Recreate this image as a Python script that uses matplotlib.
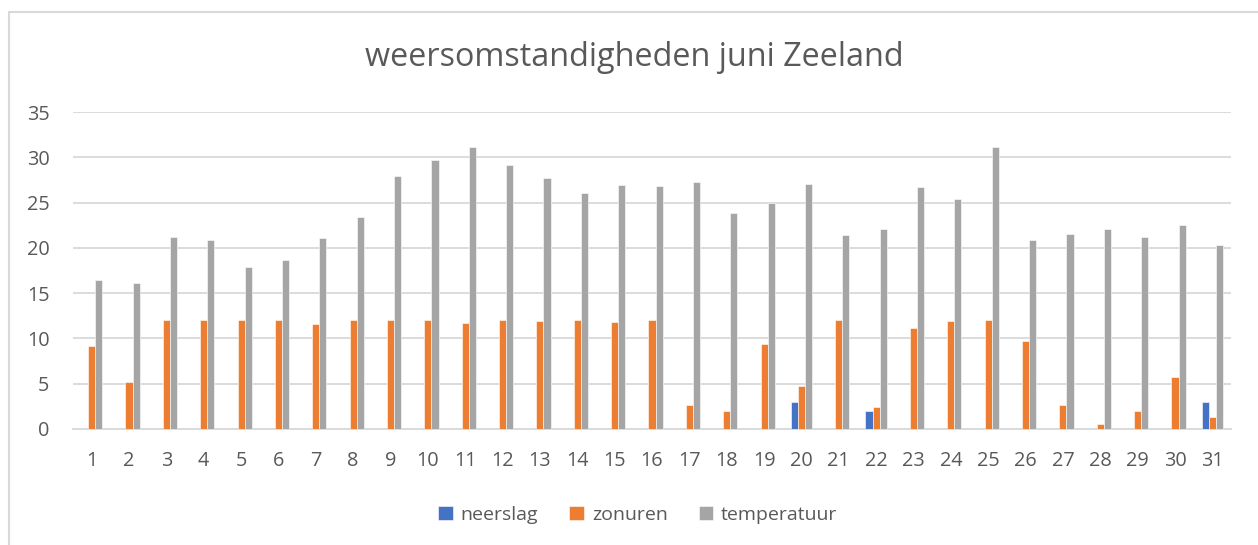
import matplotlib
matplotlib.use("Agg")
import matplotlib.pyplot as plt
import numpy as np
from matplotlib.patches import Rectangle

days = [str(d) for d in range(1, 32)]
neerslag = [0, 0, 0, 0, 0, 0, 0, 0, 0, 0, 0, 0, 0, 0, 0, 0, 0, 0, 0, 3.0,
            0, 2.0, 0, 0, 0, 0, 0, 0, 0, 0, 3.0]
zonuren = [9.2, 5.2, 12.0, 12.0, 12.0, 12.0, 11.6, 12.0, 12.0, 12.0, 11.7,
           12.0, 11.9, 12.0, 11.8, 12.0, 2.7, 2.0, 9.4, 4.7, 12.0, 2.4,
           11.2, 11.9, 12.0, 9.7, 2.6, 0.6, 2.0, 5.7, 1.3]
temperatuur = [16.4, 16.1, 21.2, 20.9, 17.9, 18.7, 21.1, 23.4, 27.9, 29.7, 31.1,
               29.2, 27.7, 26.1, 26.9, 26.8, 27.3, 23.8, 25.0, 27.1, 21.4, 22.1,
               26.7, 25.4, 31.1, 20.9, 21.5, 22.1, 21.2, 22.5, 20.3]
series_names = ["neerslag", "zonuren", "temperatuur"]
colors = ["#4472C4", "#ED7D31", "#A5A5A5"]
title = "weersomstandigheden juni Zeeland"
yticks = [0, 5, 10, 15, 20, 25, 30, 35]

plt.rcParams['font.family'] = ['Open Sans', 'DejaVu Sans']
txt = "#595959"

fig = plt.figure(figsize=(12.58, 5.45), dpi=100)
ax = fig.add_axes([73/1258, 1-429/545, (1231-73)/1258, (429-112)/545])

x = np.arange(len(days))
w = 0.19
for i, (vals, name, c) in enumerate(zip([neerslag, zonuren, temperatuur], series_names, colors)):
    ax.bar(x + (i - 1) * w, vals, width=w, color=c, label=name,
           edgecolor="white", linewidth=0.4, zorder=3)

ax.set_xlim(-0.5, len(days) - 0.5)
ax.set_ylim(0, 35)
ax.set_yticks(yticks)
ax.set_xticks(x)
ax.set_xticklabels(days)
ax.yaxis.grid(True, color="#d9d9d9", linewidth=1.3, zorder=0)
ax.set_axisbelow(True)
for s in ["top", "right", "left"]:
    ax.spines[s].set_visible(False)
ax.spines["bottom"].set_color("#d9d9d9")
ax.spines["bottom"].set_linewidth(1.3)
ax.tick_params(axis="both", length=0, labelsize=14.3, labelcolor=txt)
ax.tick_params(axis="x", pad=16)
ax.tick_params(axis="y", pad=17)

fig.text(634/1258, 1-58/545, title, ha="center", va="center", fontsize=23.3, color=txt)

leg = fig.legend(loc="center", bbox_to_anchor=(638/1258, 1-515/545), ncol=3,
                 frameon=False, fontsize=14, handlelength=0.75, handleheight=0.75,
                 handletextpad=0.4, columnspacing=1.6, labelcolor=txt)

fig.patches.append(Rectangle((9/1258, -0.1), 1.2, 1 - 12/545 + 0.1, transform=fig.transFigure,
                             fill=False, edgecolor="#d9d9d9", linewidth=1.5))

fig.savefig("out.png", dpi=100)
